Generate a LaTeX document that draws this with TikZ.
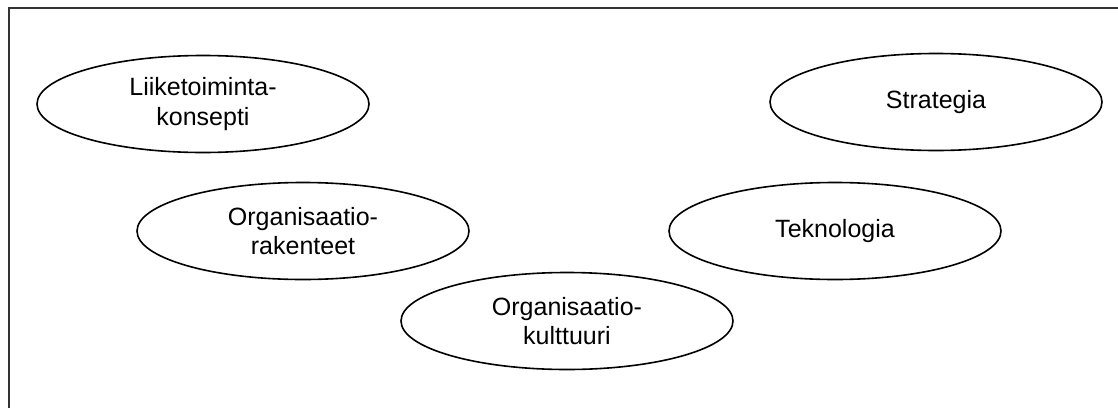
\documentclass[tikz,border=0pt]{standalone}
\usepackage{fontspec}
\setmainfont{Liberation Sans}
\usetikzlibrary{shapes.geometric}
\begin{document}
\begin{tikzpicture}[x=1pt,y=-1pt,
  oval/.style={ellipse,draw=black,line width=1.6pt,minimum width=332pt,minimum height=97pt,inner sep=0pt,
    align=center,font=\fontsize{25}{29.5}\selectfont},
  framestyle/.style={draw=black!80,line width=2pt}]
\useasboundingbox (0,0) rectangle (1118,407);
\draw[framestyle] (9,408) -- (9,8) -- (1119,8);
\node[oval] (lk) at (203,104) {Liiketoiminta-\\konsepti};
\node[oval] (st) at (936,102) {Strategia};
\node[oval] (or) at (303,231) {Organisaatio-\\rakenteet};
\node[oval] (te) at (835,231) {Teknologia};
\node[oval] (ok) at (567,321) {Organisaatio-\\kulttuuri};
\end{tikzpicture}
\end{document}
